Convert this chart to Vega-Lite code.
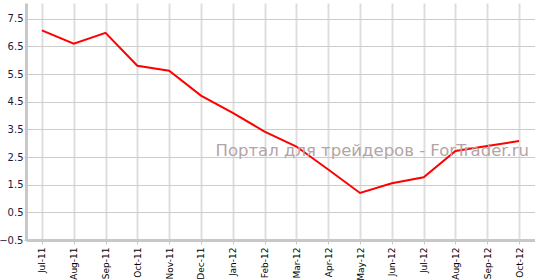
{
  "$schema": "https://vega.github.io/schema/vega-lite/v6.json",
  "width": 509,
  "height": 237,
  "autosize": {"type": "none"},
  "padding": {"left": 26, "top": 3, "right": 0, "bottom": 40},
  "background": "white",
  "config": {
    "view": {"stroke": null},
    "font": "DejaVu Sans",
    "axisY": {
      "values": [-0.5, 0.5, 1.5, 2.5, 3.5, 4.5, 5.5, 6.5, 7.5], "tickCount": 20, "labelOverlap": false,
      "format": ".1f", "labelFontSize": 10, "labelColor": "#1a1a3a",
      "gridColor": "#cccccc", "gridWidth": 1,
      "domainColor": "#c8c8c8", "domainWidth": 3, "tickColor": "#c8c8c8", "tickSize": 2, "labelPadding": 1
    }
  },
  "layer": [
    {
      "data": {"values": [
        {"month": "Jul-11", "value": 7.08},
        {"month": "Aug-11", "value": 6.6},
        {"month": "Sep-11", "value": 6.99},
        {"month": "Oct-11", "value": 5.8},
        {"month": "Nov-11", "value": 5.62},
        {"month": "Dec-11", "value": 4.72},
        {"month": "Jan-12", "value": 4.1},
        {"month": "Feb-12", "value": 3.42},
        {"month": "Mar-12", "value": 2.88},
        {"month": "Apr-12", "value": 2.05},
        {"month": "May-12", "value": 1.2},
        {"month": "Jun-12", "value": 1.55},
        {"month": "Jul-12", "value": 1.77},
        {"month": "Aug-12", "value": 2.72},
        {"month": "Sep-12", "value": 2.9},
        {"month": "Oct-12", "value": 3.08}
      ]},
      "mark": {"type": "line", "color": "#ff0000", "strokeWidth": 2},
      "encoding": {
        "x": {
          "field": "month", "type": "ordinal", "sort": null,
          "scale": {"type": "point", "padding": 0.5, "domain": ["Jul-11","Aug-11","Sep-11","Oct-11","Nov-11","Dec-11","Jan-12","Feb-12","Mar-12","Apr-12","May-12","Jun-12","Jul-12","Aug-12","Sep-12","Oct-12"]},
          "axis": {
            "title": null, "labelAngle": -90, "labelFontSize": 9, "labelColor": "#000", "labelOverlap": false,
            "grid": true, "gridColor": "#dedede", "gridWidth": 2,
            "domainColor": "#c8c8c8", "domainWidth": 3, "tickColor": "#c8c8c8", "tickSize": 4, "labelPadding": 3
          }
        },
        "y": {
          "field": "value", "type": "quantitative",
          "scale": {"domain": [-0.5, 8.07], "nice": false, "zero": false},
          "axis": {"title": null, "values": [-0.5, 0.5, 1.5, 2.5, 3.5, 4.5, 5.5, 6.5, 7.5], "tickCount": 20}
        }
      }
    },
    {
      "data": {"values": [{"label": "Портал для трейдеров - ForTrader.ru"}]},
      "mark": {"type": "text", "align": "right", "baseline": "middle", "dx": 10, "fontSize": 16.5, "color": "#b4a4a4", "font": "DejaVu Sans"},
      "encoding": {
        "x": {"datum": "Oct-12", "type": "ordinal"},
        "y": {"datum": 2.72, "type": "quantitative"},
        "text": {"field": "label"}
      }
    }
  ]
}
